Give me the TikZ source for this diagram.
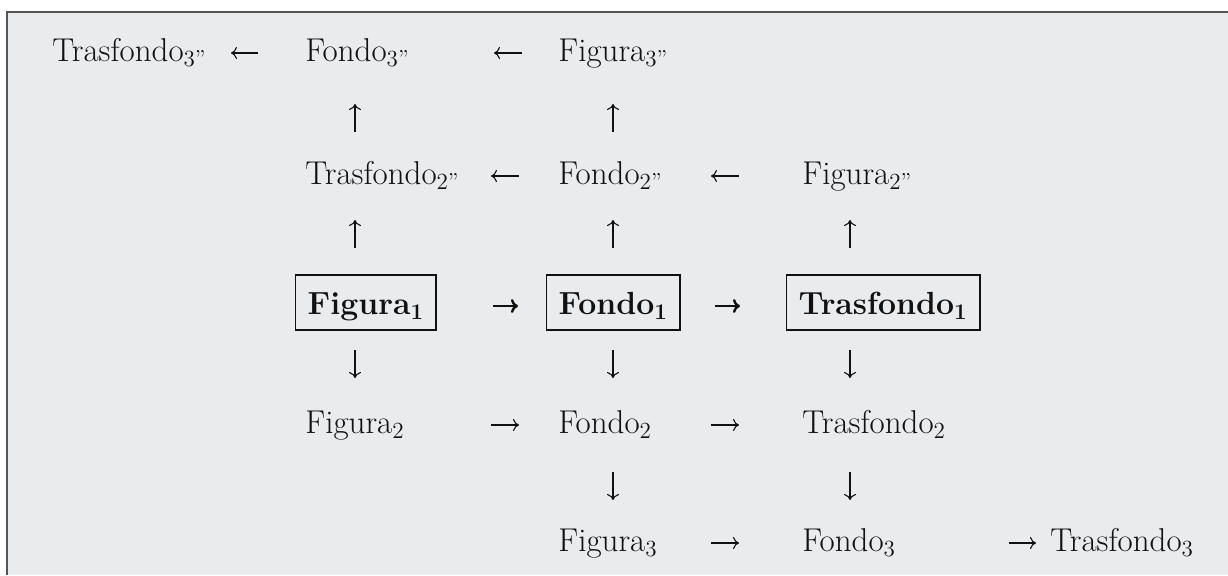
\documentclass[tikz,border=0pt]{standalone}
\usetikzlibrary{arrows.meta}
\definecolor{bg}{HTML}{EAEBED}
\definecolor{ink}{HTML}{111111}
\definecolor{framec}{HTML}{555555}
\begin{document}
\begin{tikzpicture}[x=0.5pt,y=-0.5pt,
  lbl/.style={anchor=base west,inner sep=0pt,text=ink,font=\fontsize{16.5}{20}\selectfont},
  boxlbl/.style={anchor=base west,draw=ink,line width=0.7pt,inner xsep=6pt,inner ysep=0pt,
     text height=19.5pt,text depth=8pt,text=ink,font=\fontsize{16}{19}\selectfont\bfseries},
  arr/.style={draw=ink,line width=0.55pt,-{Computer Modern Rightarrow[length=3pt,width=6pt]}},
  barr/.style={draw=ink,line width=1.2pt,-{Computer Modern Rightarrow[length=3.5pt,width=7pt]}}]
\useasboundingbox (0,0) rectangle (1228,575);
\fill[bg] (7,12) rectangle (1228,575);
\draw[framec,line width=1pt] (7,575) -- (7,12) -- (1228,12);

% row 1
\node[lbl] (t3s) at (52,61) {Trasfondo\textsubscript{3''}};
\node[lbl] (f3s) at (305,61) {Fondo\textsubscript{3''}};
\node[lbl] (g3s) at (558,61) {Figura\textsubscript{3''}};
% row 2
\node[lbl] (t2s) at (305,184) {Trasfondo\textsubscript{2''}};
\node[lbl] (f2s) at (558,184) {Fondo\textsubscript{2''}};
\node[lbl] (g2s) at (802,184) {Figura\textsubscript{2''}};
% row 3
\node[boxlbl] (g1) at (295,314) {Figura\textsubscript{1}};
\node[boxlbl] (f1) at (546,314) {Fondo\textsubscript{1}};
\node[boxlbl] (t1) at (786,314) {Trasfondo\textsubscript{1}};
% row 4
\node[lbl] (g2) at (305,433) {Figura\textsubscript{2}};
\node[lbl] (f2) at (558,433) {Fondo\textsubscript{2}};
\node[lbl] (t2) at (802,433) {Trasfondo\textsubscript{2}};
% row 5
\node[lbl] (g3) at (558,551) {Figura\textsubscript{3}};
\node[lbl] (f3) at (802,551) {Fondo\textsubscript{3}};
\node[lbl] (t3) at (1050,551) {Trasfondo\textsubscript{3}};

% horizontal arrow end points
\coordinate (a1s) at (258,53);  \coordinate (a1e) at (231,53);
\coordinate (a2s) at (522,53);  \coordinate (a2e) at (494,53);
\coordinate (a3s) at (519,176); \coordinate (a3e) at (491,176);
\coordinate (a4s) at (739,176); \coordinate (a4e) at (711,176);
\coordinate (a5s) at (493,306); \coordinate (a5e) at (518,306);
\coordinate (a6s) at (715,306); \coordinate (a6e) at (740,306);
\coordinate (a7s) at (491,425); \coordinate (a7e) at (519,425);
\coordinate (a8s) at (711,425); \coordinate (a8e) at (739,425);
\coordinate (a9s) at (711,543); \coordinate (a9e) at (739,543);
\coordinate (a10s) at (1009,543); \coordinate (a10e) at (1036,543);
% vertical arrow end points
\coordinate (u1s) at (355,132); \coordinate (u1e) at (355,104);
\coordinate (u2s) at (613,132); \coordinate (u2e) at (613,104);
\coordinate (u3s) at (355,248); \coordinate (u3e) at (355,220);
\coordinate (u4s) at (613,248); \coordinate (u4e) at (613,220);
\coordinate (u5s) at (850,248); \coordinate (u5e) at (850,220);
\coordinate (d1s) at (355,350); \coordinate (d1e) at (355,378);
\coordinate (d2s) at (613,350); \coordinate (d2e) at (613,378);
\coordinate (d3s) at (850,350); \coordinate (d3e) at (850,378);
\coordinate (d4s) at (613,472); \coordinate (d4e) at (613,500);
\coordinate (d5s) at (850,472); \coordinate (d5e) at (850,500);

\foreach \s/\e in {a1s/a1e,a2s/a2e,a3s/a3e,a4s/a4e,a7s/a7e,a8s/a8e,a9s/a9e,a10s/a10e,
  u1s/u1e,u2s/u2e,u3s/u3e,u4s/u4e,u5s/u5e,d1s/d1e,d2s/d2e,d3s/d3e,d4s/d4e,d5s/d5e}
  \draw[arr] (\s) -- (\e);
\draw[barr] (a5s) -- (a5e);
\draw[barr] (a6s) -- (a6e);
\end{tikzpicture}
\end{document}
